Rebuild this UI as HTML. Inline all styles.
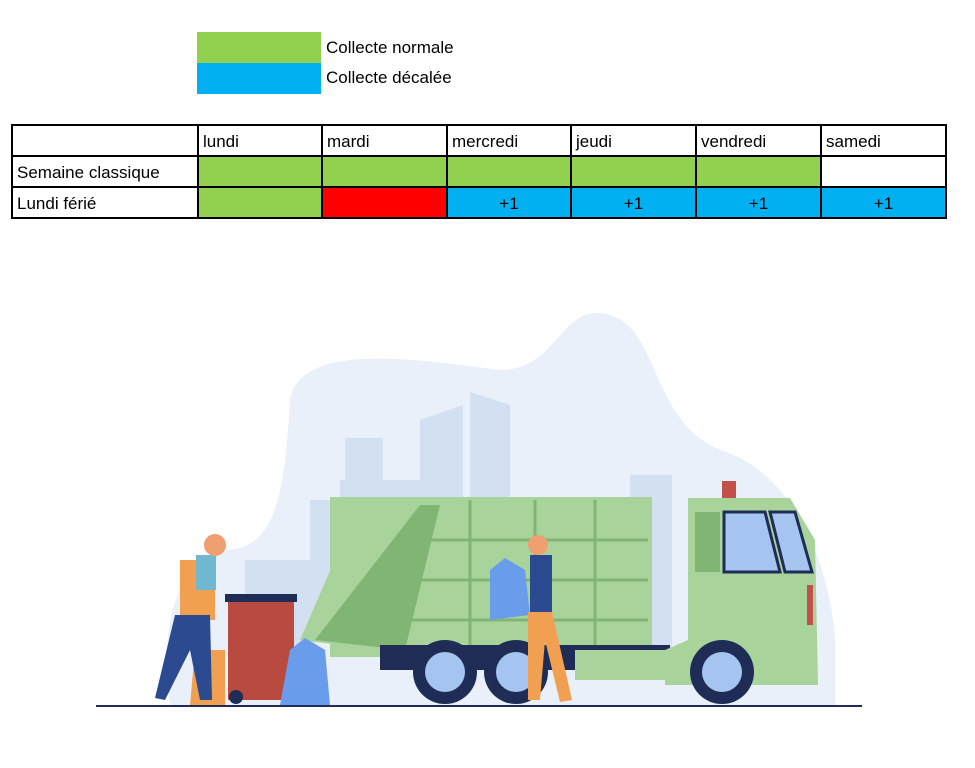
<!DOCTYPE html>
<html><head><meta charset="utf-8"><style>
body{margin:0;background:#fff;width:975px;height:768px;position:relative;overflow:hidden;font-family:"Liberation Sans",sans-serif}
.lg{position:absolute;left:197px;width:124px;height:31px}
.lt{position:absolute;left:326px;font-size:17px;color:#000}
table{position:absolute;left:11px;top:124px;border-collapse:collapse}
td{border:2px solid #000;height:31px;padding:2px 4px 0;font-size:17px;box-sizing:border-box}
.g{background:#92d050}.b{background:#00b0f0;text-align:center}.r{background:#ff0000}
</style></head><body>
<div class="lg" style="top:32px;background:#92d050"></div>
<div class="lg" style="top:63px;background:#00b0f0"></div>
<div class="lt" style="top:38px">Collecte normale</div>
<div class="lt" style="top:68px">Collecte décalée</div>
<table>
<tr><td style="width:186px"></td><td style="width:124px">lundi</td><td style="width:125px">mardi</td><td style="width:124px">mercredi</td><td style="width:125px">jeudi</td><td style="width:125px">vendredi</td><td style="width:125px">samedi</td></tr>
<tr><td>Semaine classique</td><td class="g"></td><td class="g"></td><td class="g"></td><td class="g"></td><td class="g"></td><td></td></tr>
<tr><td>Lundi férié</td><td class="g"></td><td class="r"></td><td class="b">+1</td><td class="b">+1</td><td class="b">+1</td><td class="b">+1</td></tr>
</table>
<svg style="position:absolute;left:0;top:0" width="975" height="768">
<path d="M290 400 C300 340 420 360 500 370 C560 370 560 300 610 315 C660 330 650 420 720 450 C790 470 830 560 835 640 L835 705 L170 705 C160 640 170 560 230 550 C280 545 285 480 290 400Z" fill="#e9f0f9"/>
<g fill="#d2e0f1">
<rect x="345" y="438" width="38" height="60"/><rect x="340" y="480" width="80" height="100"/>
<path d="M420 420 L463 405 L463 500 L420 500Z"/><path d="M470 392 L510 405 L510 500 L470 500Z"/>
<rect x="310" y="500" width="30" height="120"/><rect x="630" y="475" width="42" height="200"/>
<rect x="245" y="560" width="70" height="140"/>
</g>
<rect x="330" y="497" width="322" height="160" fill="#a8d39b"/>
<path d="M300 640 L350 525 L380 515 L380 650Z" fill="#a8d39b"/>
<path d="M315 640 L420 505 L440 505 L405 650Z" fill="#80b574"/>
<g stroke="#80b574" stroke-width="3"><line x1="420" y1="540" x2="648" y2="540"/><line x1="420" y1="580" x2="648" y2="580"/><line x1="410" y1="620" x2="648" y2="620"/><line x1="470" y1="500" x2="470" y2="650"/><line x1="535" y1="500" x2="535" y2="650"/><line x1="595" y1="500" x2="595" y2="650"/></g>
<rect x="380" y="645" width="290" height="25" fill="#1f2d56"/>
<rect x="575" y="650" width="110" height="30" fill="#a8d39b"/>
<path d="M688 498 L790 498 L815 540 L818 685 L665 685 L665 650 L688 640Z" fill="#a8d39b"/>
<rect x="722" y="481" width="14" height="17" fill="#c2504a"/>
<rect x="695" y="512" width="25" height="60" fill="#80b574"/>
<path d="M724 512 L765 512 L780 572 L724 572Z" fill="#a6c4f0" stroke="#1f2d56" stroke-width="3"/>
<path d="M770 512 L795 512 L812 572 L785 572Z" fill="#a6c4f0" stroke="#1f2d56" stroke-width="3"/>
<rect x="807" y="585" width="6" height="40" fill="#c2504a"/>
<g fill="#1f2d56"><circle cx="445" cy="672" r="32"/><circle cx="516" cy="672" r="32"/><circle cx="722" cy="672" r="32"/></g>
<g fill="#a6c4f0"><circle cx="445" cy="672" r="20"/><circle cx="516" cy="672" r="20"/><circle cx="722" cy="672" r="20"/></g>
<rect x="228" y="600" width="66" height="100" fill="#b84a40"/><rect x="225" y="594" width="72" height="8" fill="#1f2d56"/>
<circle cx="236" cy="697" r="7" fill="#1f2d56"/>
<path d="M195 650 L225 650 L225 705 L190 705Z" fill="#f0a050"/>
<path d="M280 705 L290 650 L305 638 L325 650 L330 705Z" fill="#6a9cec"/>
<path d="M490 570 L505 558 L525 570 L530 615 L490 620Z" fill="#6a9cec"/>
<rect x="530" y="555" width="22" height="60" fill="#2c4a8f"/>
<path d="M528 612 L552 612 L572 700 L560 702 L545 640 L540 700 L528 700Z" fill="#f0a050"/>
<circle cx="538" cy="545" r="10" fill="#f0a070"/>
<rect x="180" y="560" width="35" height="60" fill="#f0a050"/><rect x="196" y="555" width="20" height="35" fill="#6fb8d0"/>
<path d="M175 615 L210 615 L212 700 L200 700 L190 650 L165 700 L155 698Z" fill="#2c4a8f"/>
<circle cx="215" cy="545" r="11" fill="#f0a070"/>
<line x1="96" y1="706" x2="862" y2="706" stroke="#1f2d56" stroke-width="2"/>
</svg>
</body></html>
